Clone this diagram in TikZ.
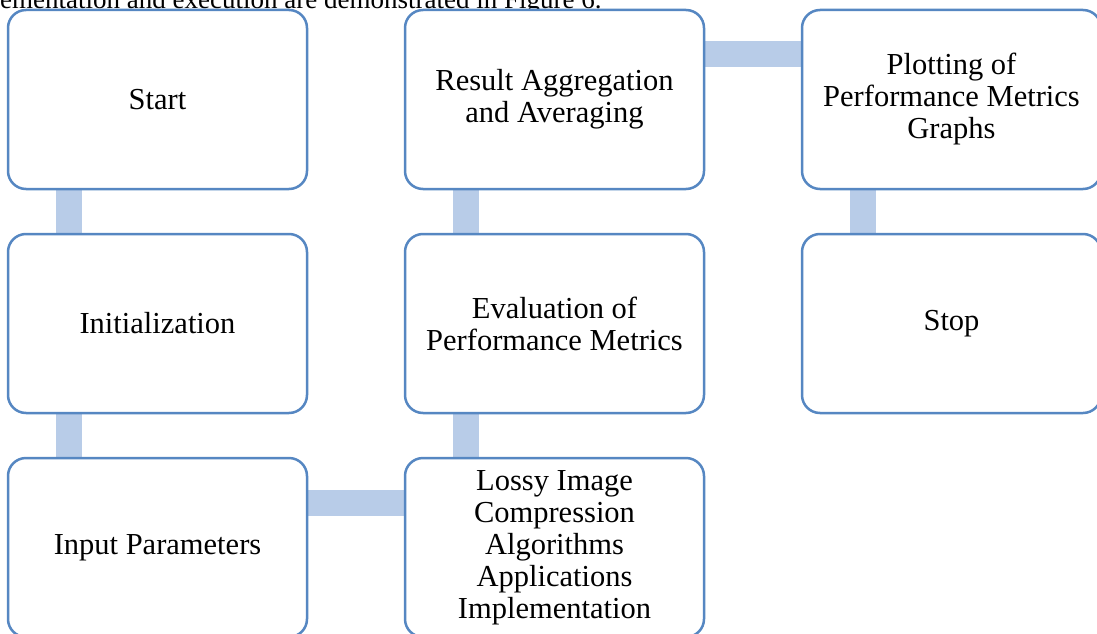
\documentclass[tikz,border=0pt]{standalone}
\usepackage{fontspec}
\setmainfont{Liberation Serif}
\usetikzlibrary{backgrounds}
\definecolor{boxline}{HTML}{5687C2}
\definecolor{barfill}{HTML}{B8CCE8}
\tikzset{
  stage/.style={draw=boxline, line width=2.5pt, fill=white, rounded corners=18pt,
    minimum width=299pt, minimum height=179pt, inner sep=2pt, align=center,
    font=\fontsize{30.5}{32}\selectfont},
  link/.style={draw=barfill, line width=26pt}
}
\begin{document}
\begin{tikzpicture}[x=1pt, y=-1pt]
\useasboundingbox (0,0) rectangle (1097,634);

% running text from the page, cut by the frame
\node[anchor=base west, inner sep=0pt, font=\fontsize{27}{32}\selectfont] (caption) at (0,8.5)
  {ementation and execution are demonstrated in Figure 6.};

% process stages
\node[stage] (start)  at (157.5,99.5)  {Start};
\node[stage] (init)   at (157.5,323.5) {Initialization};
\node[stage] (input)  at (157.5,547.5) {Input Parameters};
\node[stage] (lossy)  at (554.5,547.5) {Lossy Image\\Compression\\Algorithms\\Applications\\Implementation};
\node[stage] (eval)   at (554.5,323.5) {Evaluation of\\Performance Metrics};
\node[stage] (result) at (554.5,99.5)  {Result Aggregation\\and Averaging};
\node[stage] (plot)   at (951.5,99.5)  {Plotting of\\Performance Metrics\\Graphs};
\node[stage] (stop)   at (951.5,323.5) {Stop};

% wide connecting bands behind the stages
\begin{scope}[on background layer]
  \draw[link] ([xshift=-89pt]start.south) -- ([xshift=-89pt]init.north);
  \draw[link] ([xshift=-89pt]init.south)  -- ([xshift=-89pt]input.north);
  \draw[link] ([yshift=45pt]input.east)   -- ([yshift=45pt]lossy.west);
  \draw[link] ([xshift=-89pt]lossy.north) -- ([xshift=-89pt]eval.south);
  \draw[link] ([xshift=-89pt]eval.north)  -- ([xshift=-89pt]result.south);
  \draw[link] ([yshift=45pt]result.east)  -- ([yshift=45pt]plot.west);
  \draw[link] ([xshift=-89pt]plot.south)  -- ([xshift=-89pt]stop.north);
\end{scope}
\end{tikzpicture}
\end{document}
